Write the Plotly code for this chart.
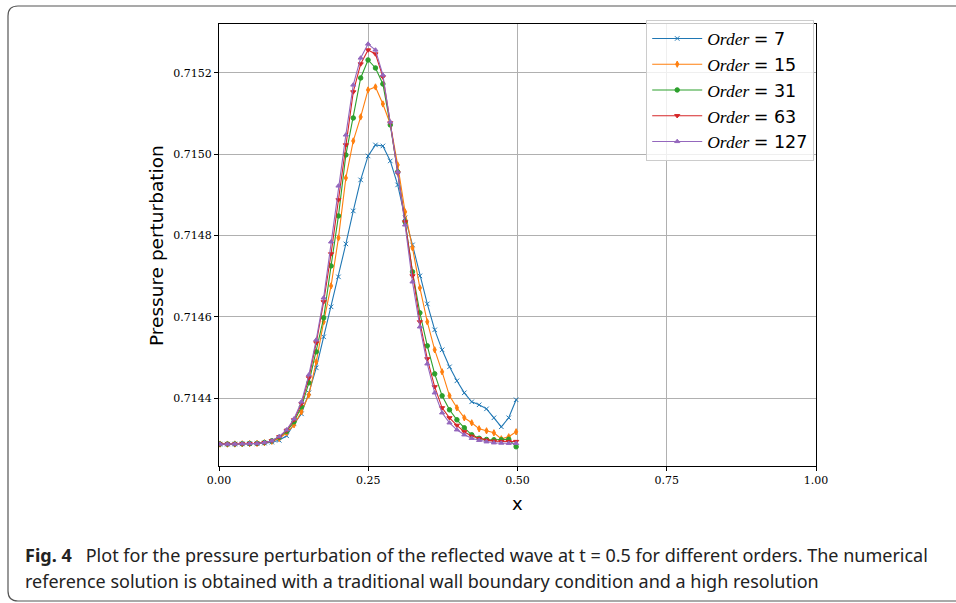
import plotly.graph_objects as go

# ---- data ----
x_vals = [round(0.0017 + 0.0124 * i, 4) for i in range(41)]

order_7 = [0.7142866, 0.7142866, 0.7142868, 0.7142871, 0.7142876, 0.7142881, 0.7142891, 0.7142915,
           0.7142959, 0.7143070, 0.7143365, 0.7143611, 0.7144128, 0.7144743, 0.7145506, 0.7146244,
           0.7146982, 0.7147793, 0.7148605, 0.7149368, 0.7149958, 0.7150229, 0.7150204, 0.7149835,
           0.7149245, 0.7148433, 0.7147769, 0.7147006, 0.7146317, 0.7145678, 0.7145186, 0.7144768,
           0.7144423, 0.7144128, 0.7143907, 0.7143833, 0.7143734, 0.7143513, 0.7143292, 0.7143513,
           0.7143956]
order_15 = [0.7142866, 0.7142866, 0.7142868, 0.7142873, 0.7142878, 0.7142883, 0.7142898, 0.7142935,
            0.7143004, 0.7143144, 0.7143341, 0.7143661, 0.7144079, 0.7144891, 0.7145875, 0.7146760,
            0.7147941, 0.7149417, 0.7150327, 0.7150918, 0.7151582, 0.7151656, 0.7151237, 0.7150745,
            0.7149737, 0.7148581, 0.7147695, 0.7146711, 0.7145875, 0.7145186, 0.7144645, 0.7144054,
            0.7143759, 0.7143513, 0.7143390, 0.7143242, 0.7143193, 0.7143144, 0.7142996, 0.7143046,
            0.7143169]
order_31 = [0.7142866, 0.7142866, 0.7142868, 0.7142873, 0.7142878, 0.7142883, 0.7142905, 0.7142947,
            0.7143033, 0.7143181, 0.7143415, 0.7143784, 0.7144374, 0.7145137, 0.7145973, 0.7147252,
            0.7148482, 0.7149983, 0.7150893, 0.7151877, 0.7152320, 0.7152123, 0.7151729, 0.7150721,
            0.7149565, 0.7148335, 0.7147105, 0.7146096, 0.7145284, 0.7144595, 0.7144054, 0.7143710,
            0.7143464, 0.7143267, 0.7143095, 0.7143009, 0.7142979, 0.7142972, 0.7142972, 0.7142984,
            0.7142800]
order_63 = [0.7142866, 0.7142866, 0.7142868, 0.7142873, 0.7142878, 0.7142881, 0.7142903, 0.7142947,
            0.7143046, 0.7143205, 0.7143464, 0.7143857, 0.7144497, 0.7145358, 0.7146367, 0.7147547,
            0.7148876, 0.7150229, 0.7151533, 0.7152221, 0.7152566, 0.7152467, 0.7151902, 0.7150770,
            0.7149540, 0.7148335, 0.7147006, 0.7145875, 0.7144964, 0.7144276, 0.7143759, 0.7143513,
            0.7143328, 0.7143169, 0.7143058, 0.7143004, 0.7142964, 0.7142940, 0.7142930, 0.7142930,
            0.7142930]
order_127 = [0.7142866, 0.7142866, 0.7142868, 0.7142873, 0.7142878, 0.7142881, 0.7142903, 0.7142947,
             0.7143053, 0.7143218, 0.7143488, 0.7143907, 0.7144571, 0.7145432, 0.7146465, 0.7147843,
             0.7149220, 0.7150475, 0.7151705, 0.7152369, 0.7152713, 0.7152566, 0.7151951, 0.7150795,
             0.7149565, 0.7148261, 0.7146859, 0.7145752, 0.7144841, 0.7144128, 0.7143636, 0.7143390,
             0.7143218, 0.7143095, 0.7143009, 0.7142959, 0.7142923, 0.7142898, 0.7142891, 0.7142886,
             0.7142883]

series_names = ["7", "15", "31", "63", "127"]
series_values = [order_7, order_15, order_31, order_63, order_127]
colors = ["#1f77b4", "#ff7f0e", "#2ca02c", "#d62728", "#9467bd"]
symbols = ["x-thin", "diamond-tall", "circle", "triangle-down", "triangle-up"]

x_ticks = [0.0, 0.25, 0.5, 0.75, 1.0]
x_ticktext = ["0.00", "0.25", "0.50", "0.75", "1.00"]
y_ticks = [0.7144, 0.7146, 0.7148, 0.7150, 0.7152]

caption_1 = "<b>Fig. 4</b>   Plot for the pressure perturbation of the reflected wave at t = 0.5 for different orders. The numerical"
caption_2 = "reference solution is obtained with a traditional wall boundary condition and a high resolution"

# ---- layout geometry (pixels) ----
W, H = 956, 603
L, R, T, B = 219, 816, 24, 466


def px(xp):
    return (xp - L) / (R - L)


def py(yp):
    return (B - yp) / (B - T)


fig = go.Figure()
for name, vals, col, sym in zip(series_names, series_values, colors, symbols):
    fig.add_trace(go.Scatter(
        x=x_vals, y=vals, mode="lines+markers",
        name="<i>Order</i> <span style='font-family:DejaVu Sans'>= " + name + "</span>",
        line=dict(color=col, width=1.1),
        marker=dict(symbol=sym, size=4.5, color=col, line=dict(width=1, color=col)),
    ))

# rounded caption box border
box_path = (f"M {px(956)},{py(6)} L {px(18)},{py(6)} Q {px(8)},{py(6)} {px(8)},{py(16)} "
            f"L {px(8)},{py(591)} Q {px(8)},{py(601)} {px(18)},{py(601)} L {px(956)},{py(601)}")

fig.update_layout(
    width=W, height=H,
    margin=dict(l=L, r=W - R, t=T, b=H - B, pad=0),
    paper_bgcolor="white", plot_bgcolor="white",
    showlegend=True,
    legend=dict(
        x=0.997, xanchor="right", y=1.01, yanchor="top",
        bgcolor="rgba(255,255,255,0.8)", bordercolor="#cccccc", borderwidth=1,
        font=dict(family="Liberation Serif", size=17.5, color="black"),
        itemwidth=50, tracegroupgap=0,
    ),
    xaxis=dict(
        range=[0, 1], tickvals=x_ticks, ticktext=x_ticktext,
        showgrid=True, gridcolor="#b0b0b0", gridwidth=1.4,
        showline=True, linecolor="black", linewidth=1.2, mirror=True,
        ticks="outside", ticklen=4, tickcolor="black", tickwidth=1,
        tickfont=dict(family="DejaVu Serif", size=11, color="black"),
        zeroline=False,
    ),
    yaxis=dict(
        range=[0.7142327, 0.7153205], tickvals=y_ticks, tickformat=".4f",
        showgrid=True, gridcolor="#b0b0b0", gridwidth=1.4,
        showline=True, linecolor="black", linewidth=1.2, mirror=True,
        ticks="outside", ticklen=4, tickcolor="black", tickwidth=1,
        tickfont=dict(family="DejaVu Serif", size=11, color="black"),
        zeroline=False,
    ),
    shapes=[dict(type="path", xref="paper", yref="paper", path=box_path,
                 line=dict(color="#555555", width=1.2))],
    annotations=[
        dict(text="x", xref="paper", yref="paper", x=px(517), y=py(504),
             xanchor="center", yanchor="middle",
             showarrow=False, font=dict(family="DejaVu Sans", size=18, color="black")),
        dict(text="Pressure perturbation", xref="paper", yref="paper", x=px(156), y=py(246),
             xanchor="center", yanchor="middle",
             textangle=-90, showarrow=False, font=dict(family="DejaVu Sans", size=18.5, color="black")),
        dict(text=caption_1, xref="paper", yref="paper", x=px(23), y=py(555), xanchor="left",
             yanchor="middle", showarrow=False, align="left",
             font=dict(family="Noto Sans", size=18, color="#222222")),
        dict(text=caption_2, xref="paper", yref="paper", x=px(23), y=py(581), xanchor="left",
             yanchor="middle", showarrow=False, align="left",
             font=dict(family="Noto Sans", size=18, color="#222222")),
    ],
)

fig.write_html("out.html")
